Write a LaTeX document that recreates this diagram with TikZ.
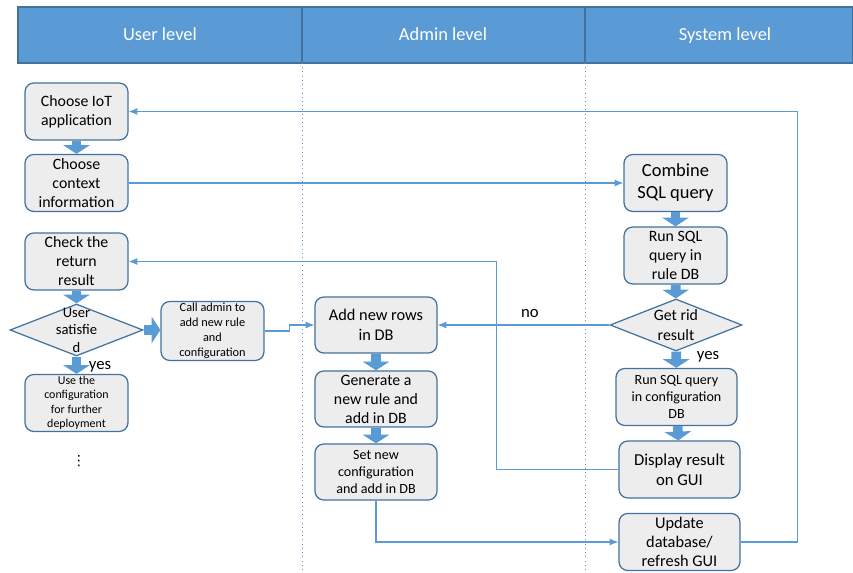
\documentclass[tikz,border=0pt]{standalone}
\usepackage{fontspec}
\setmainfont{Carlito}
\newfontfamily\dejavu{DejaVu Sans}
\usetikzlibrary{shapes.geometric,arrows.meta}
\definecolor{lane}{HTML}{5B9BD5}
\definecolor{edge}{HTML}{41719C}
\definecolor{boxfill}{HTML}{EDEDED}

\begin{document}
\begin{tikzpicture}[x=0.02cm,y=-0.02cm,
    box/.style={draw=edge, fill=boxfill, rounded corners=5pt, line width=0.7pt, align=center,
        inner sep=1pt, minimum width=2.06cm, minimum height=1.14cm, font=\fontsize{9}{10.8}\selectfont},
    wide/.style={minimum width=2.44cm, minimum height=1.12cm},
    decision/.style={draw=edge, fill=boxfill, diamond, line width=0.7pt, inner sep=0pt},
    lanetitle/.style={text=white, anchor=base, font=\fontsize{10.5}{12}\selectfont},
    bigarrow/.style={draw=lane, line width=5.5pt, -{Triangle[width=15pt,length=5pt]}},
    link/.style={draw=lane, line width=0.6pt, -{Latex[length=5pt,width=4pt]}}]
    \useasboundingbox (0,0) rectangle (853,573);

    % lanes
    \fill[lane] (18,7) rectangle (853,63);
    \draw[edge, line width=0.6pt] (18,7) rectangle (853,63);
    \draw[edge, line width=0.6pt] (302,7) -- (302,63);
    \draw[edge, line width=0.6pt] (585,7) -- (585,63);
    \draw[lane, dotted] (302,63) -- (302,570);
    \draw[lane, dotted] (585,63) -- (585,570);
    \node[lanetitle] (user) at (160,41) {User level};
    \node[lanetitle] (adm) at (443,41) {Admin level};
    \node[lanetitle] (sys) at (725,41) {System level};

    % user level
    \node[box] (iot) at (76.5,111.5) {Choose IoT\\application};
    \node[box] (ctx) at (76.5,183) {Choose\\context\\information};
    \node[box] (check) at (76.5,261.5) {Check the\\return\\result};
    \node[decision, minimum width=2.66cm, minimum height=1.04cm] (sat) at (76.5,330) {};
    \node[align=center, font=\fontsize{8.3}{10}\selectfont] (satlbl) at (sat) {User\\satisfie\\d};
    \node[box, font=\fontsize{7}{8.5}\selectfont] (admin) at (212.5,331) {Call admin to\\add new rule\\and\\configuration};
    \node[box, font=\fontsize{6.8}{8.2}\selectfont] (use) at (76.5,403) {Use the\\configuration\\for further\\deployment};
    \node[font=\dejavu\fontsize{8}{9}\selectfont, inner sep=0pt] (dots) at (79,461) {⋮};
    \node[font=\fontsize{9.5}{11}\selectfont] (yes1) at (100,367) {yes};

    % admin level
    \node[box, wide, font=\fontsize{9.3}{11.3}\selectfont] (rows) at (376,325) {Add new rows\\in DB};
    \node[box, wide, font=\fontsize{9}{10.8}\selectfont] (gen) at (376,399) {Generate a\\new rule and\\add in DB};
    \node[box, wide, font=\fontsize{8}{9.6}\selectfont] (setc) at (376,472) {Set new\\configuration\\and add in DB};

    % system level
    \node[box, font=\fontsize{10.5}{12.5}\selectfont] (comb) at (675.5,183) {Combine\\SQL query};
    \node[box] (run) at (675.5,255.5) {Run SQL\\query in\\rule DB};
    \node[decision, minimum width=2.64cm, minimum height=1.04cm] (rid) at (676,325) {};
    \node[align=center, font=\fontsize{9}{11}\selectfont] (ridlbl) at (rid) {Get rid\\result};
    \node[font=\fontsize{9.5}{11}\selectfont] (yes2) at (708,357) {yes};
    \node[box, minimum width=2.42cm, font=\fontsize{8}{9.6}\selectfont] (runc) at (676.5,397) {Run SQL query\\in configuration\\DB};
    \node[box, minimum width=2.42cm, font=\fontsize{9.5}{11.3}\selectfont] (disp) at (679.5,469.5) {Display result\\on GUI};
    \node[box, minimum width=2.42cm, font=\fontsize{9.3}{11}\selectfont] (upd) at (679.5,542) {Update\\database/\\refresh GUI};
    \node[font=\fontsize{9.5}{11}\selectfont] (no) at (530,314) {no};

    % block arrows
    \draw[bigarrow] (iot) -- (ctx);
    \draw[bigarrow] (check) -- (sat);
    \draw[bigarrow] (sat) -- (use);
    \draw[bigarrow] (sat.east) -- (sat.east -| admin.west);
    \draw[bigarrow] (rows) -- (gen);
    \draw[bigarrow] (gen) -- (setc);
    \draw[bigarrow] (comb) -- (run);
    \draw[bigarrow] (run) -- (rid);
    \draw[bigarrow] (rid) -- (runc);
    \draw[bigarrow] (runc) -- (disp);

    % links
    \draw[link] (ctx) -- (comb);
    \draw[link] (upd.east) -- ++(57,0) |- (iot.east);
    \draw[link] (disp.west) -- ++(-122,0) |- (check.east);
    \draw[link] (rid) -- (rows);
    \draw[link] (admin.east) -- ++(25,0) |- (rows.west);
    \draw[link] (setc.south) |- (upd.west);
\end{tikzpicture}
\end{document}
